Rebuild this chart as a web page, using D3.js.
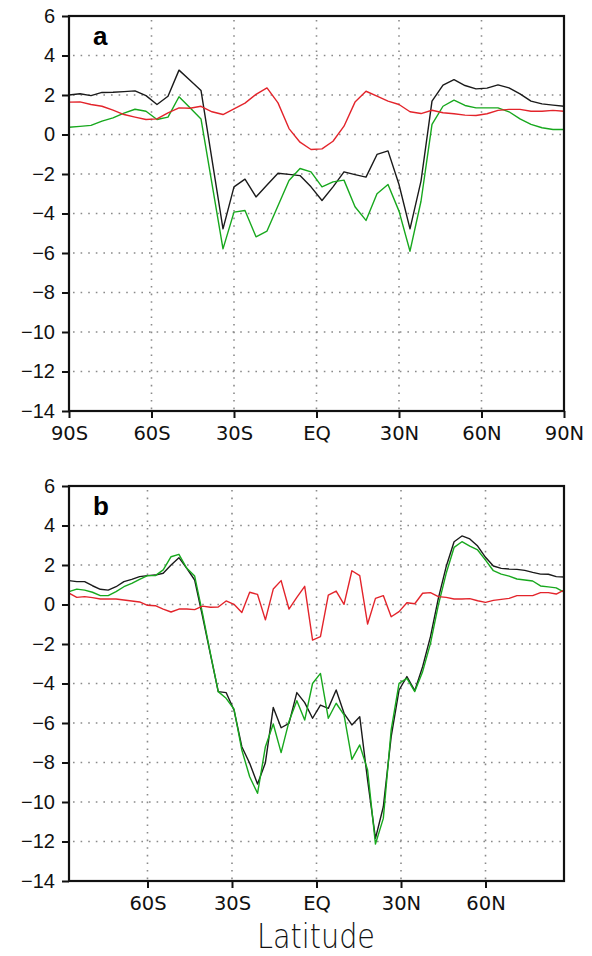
<!DOCTYPE html>
<html>
<head>
<meta charset="utf-8">
<script src="https://cdn.jsdelivr.net/npm/d3@7"></script>
<style>
  body { margin: 0; background: #fff; }
  svg { display: block; }
</style>
</head>
<body>
<div id="chart"></div>
<script>
var W = 592, H = 956;

// panel a: 4 degree grid, 90S..90N
var latA = [-90,-86,-82,-78,-74,-70,-66,-62,-58,-54,-50,-46,-42,-38,-34,-30,-26,-22,-18,-14,-10,-6,-2,
            2,6,10,14,18,22,26,30,34,38,42,46,50,54,58,62,66,70,74,78,82,86,90];
var blackA = [2.00,2.06,1.97,2.13,2.14,2.17,2.21,1.97,1.52,1.94,3.26,2.75,2.23,-1.27,-4.78,-2.65,-2.26,-3.16,-2.56,-1.96,-2.02,-2.08,-2.65,
              -3.34,-2.65,-1.89,-2.03,-2.16,-1.01,-0.83,-2.53,-4.78,-2.36,1.69,2.50,2.78,2.48,2.31,2.35,2.51,2.36,2.06,1.69,1.55,1.49,1.43];
var greenA = [0.37,0.41,0.46,0.68,0.84,1.08,1.28,1.18,0.76,0.88,1.91,1.35,0.79,-2.50,-5.79,-3.93,-3.85,-5.18,-4.89,-3.61,-2.33,-1.72,-1.89,
              -2.65,-2.40,-2.31,-3.66,-4.35,-3.00,-2.53,-3.88,-5.91,-3.38,0.51,1.43,1.74,1.47,1.35,1.35,1.35,1.15,0.79,0.51,0.34,0.25,0.25];
var redA = [1.64,1.65,1.52,1.43,1.23,1.01,0.88,0.76,0.79,1.10,1.35,1.33,1.43,1.15,1.01,1.30,1.59,2.03,2.36,1.60,0.30,-0.39,-0.76,
            -0.73,-0.34,0.42,1.64,2.19,1.94,1.69,1.52,1.15,1.06,1.23,1.10,1.05,0.98,0.96,1.05,1.22,1.27,1.27,1.18,1.18,1.22,1.18];

// panel b: T42 gaussian latitudes
var latB = [-87.86,-85.10,-82.31,-79.53,-76.74,-73.95,-71.16,-68.37,-65.58,-62.79,-60.00,-57.21,-54.42,-51.63,-48.84,-46.04,
            -43.25,-40.46,-37.67,-34.88,-32.09,-29.30,-26.51,-23.72,-20.93,-18.14,-15.35,-12.56,-9.77,-6.98,-4.19,-1.40,
            1.40,4.19,6.98,9.77,12.56,15.35,18.14,20.93,23.72,26.51,29.30,32.09,34.88,37.67,40.46,43.25,
            46.04,48.84,51.63,54.42,57.21,60.00,62.79,65.58,68.37,71.16,73.95,76.74,79.53,82.31,85.10,87.86];
var blackB = [1.21,1.16,1.16,0.95,0.77,0.73,0.90,1.16,1.27,1.41,1.46,1.49,1.58,2.00,2.37,1.83,
              1.24,-0.60,-2.51,-4.41,-4.46,-5.34,-7.20,-8.04,-9.09,-8.01,-5.21,-6.24,-6.02,-4.46,-4.97,-5.76,
              -5.09,-5.26,-4.33,-5.51,-6.10,-5.68,-8.89,-11.84,-10.24,-6.69,-4.33,-3.65,-4.36,-3.15,-1.63,0.31,
              1.92,3.18,3.47,3.32,2.96,2.39,1.95,1.83,1.80,1.78,1.73,1.63,1.54,1.53,1.41,1.39];
var greenB = [0.65,0.78,0.73,0.62,0.45,0.45,0.65,0.90,1.07,1.27,1.46,1.46,1.75,2.42,2.54,1.83,
              1.44,-0.45,-2.47,-4.41,-4.75,-5.29,-7.37,-8.72,-9.56,-7.20,-6.05,-7.50,-5.93,-4.87,-5.85,-4.00,
              -3.49,-5.76,-5.00,-5.59,-7.84,-7.11,-8.38,-12.13,-10.83,-6.35,-3.99,-3.74,-4.41,-3.40,-1.97,-0.03,
              1.58,2.89,3.18,2.96,2.76,2.25,1.71,1.54,1.44,1.29,1.24,1.19,0.94,0.89,0.84,0.63];
var redB = [0.57,0.36,0.40,0.35,0.28,0.28,0.28,0.23,0.18,0.13,-0.04,-0.06,-0.23,-0.38,-0.23,-0.23,
            -0.26,-0.08,-0.14,-0.13,0.18,0.01,-0.41,0.62,0.51,-0.78,0.78,1.21,-0.23,0.36,0.92,-1.80,
            -1.63,0.48,0.68,0.01,1.71,1.46,-0.99,0.31,0.45,-0.62,-0.36,0.09,0.04,0.57,0.60,0.40,
            0.36,0.28,0.28,0.30,0.19,0.11,0.21,0.26,0.31,0.45,0.45,0.45,0.60,0.60,0.53,0.73];

var yTicks = [6,4,2,0,-2,-4,-6,-8,-10,-12,-14];
var xTicksA = [-90,-60,-30,0,30,60,90];
var xTicksB = [-60,-30,0,30,60];
var latLabel = {"-90":"90S","-60":"60S","-30":"30S","0":"EQ","30":"30N","60":"60N","90":"90N"};

var svg = d3.select("#chart").append("svg")
  .attr("width", W)
  .attr("height", H);

function drawPanel(o) {
  var left = 69, width = 495, height = 395;
  var g = svg.append("g").attr("transform", "translate(" + left + "," + o.top + ")");

  var x = d3.scaleLinear().domain(o.xDomain).range([0, width]);
  var y = d3.scaleLinear().domain([-14, 6]).range([height, 0]);

  // dotted grid
  g.append("g").selectAll("line.gy")
    .data(yTicks.filter(function(d){ return d > -14 && d < 6; }))
    .enter().append("line")
    .attr("x1", 4).attr("x2", width)
    .attr("y1", function(d){ return y(d); })
    .attr("y2", function(d){ return y(d); })
    .attr("stroke", "#8a8a8a").attr("stroke-width", 1.6)
    .attr("stroke-dasharray", "1.6,6");
  g.append("g").selectAll("line.gx")
    .data(o.xTicks.filter(function(d){ return x(d) > 1 && x(d) < width - 1; }))
    .enter().append("line")
    .attr("y1", 4).attr("y2", height)
    .attr("x1", function(d){ return x(d); })
    .attr("x2", function(d){ return x(d); })
    .attr("stroke", "#8a8a8a").attr("stroke-width", 1.6)
    .attr("stroke-dasharray", "1.6,6");

  var line = d3.line()
    .x(function(d){ return x(d[0]); })
    .y(function(d){ return y(d[1]); });

  var series = [
    {vals: o.black, color: "#1a1a1a"},
    {vals: o.green, color: "#17a81d"},
    {vals: o.red,   color: "#e3242b"}
  ];
  series.forEach(function(s) {
    g.append("path")
      .datum(o.lat.map(function(l, i){ return [l, s.vals[i]]; }))
      .attr("d", line)
      .attr("fill", "none")
      .attr("stroke", s.color)
      .attr("stroke-width", 1.4)
      .attr("stroke-linejoin", "round");
  });

  // frame
  g.append("rect")
    .attr("width", width).attr("height", height)
    .attr("fill", "none").attr("stroke", "#111").attr("stroke-width", 2.2);

  var yAxis = g.append("g")
    .call(d3.axisLeft(y).tickValues(yTicks).tickSize(7).tickPadding(7)
      .tickFormat(function(d){ return d < 0 ? "\u2212" + Math.abs(d) : d; }));
  yAxis.select(".domain").remove();
  yAxis.selectAll("line").attr("stroke", "#111").attr("stroke-width", 2);
  yAxis.selectAll("text")
    .attr("font-family", "'Liberation Sans', Arial, sans-serif")
    .attr("font-size", 20).attr("fill", "#111");

  var xAxis = g.append("g")
    .attr("transform", "translate(0," + height + ")")
    .call(d3.axisBottom(x).tickValues(o.xTicks).tickSize(7).tickPadding(8)
      .tickFormat(function(d){ return latLabel[d]; }));
  xAxis.select(".domain").remove();
  xAxis.selectAll("line").attr("stroke", "#111").attr("stroke-width", 2);
  xAxis.selectAll("text")
    .attr("font-family", "'DejaVu Sans', sans-serif")
    .attr("font-size", 19.5).attr("fill", "#111");

  g.append("text")
    .attr("x", 24).attr("y", 29)
    .attr("font-family", "'Liberation Sans', Arial, sans-serif")
    .attr("font-weight", "bold").attr("font-size", 26)
    .text(o.tag);
}

drawPanel({top: 16, xDomain: [-90, 90], xTicks: xTicksA, lat: latA,
  black: blackA, green: greenA, red: redA, tag: "a"});
drawPanel({top: 486, xDomain: [-87.86, 87.86], xTicks: xTicksB, lat: latB,
  black: blackB, green: greenB, red: redB, tag: "b"});

svg.append("text")
  .attr("x", 316).attr("y", 948)
  .attr("text-anchor", "middle")
  .attr("font-family", "'DejaVu Sans', sans-serif")
  .attr("font-weight", 200)
  .attr("font-size", 34)
  .attr("textLength", 118)
  .attr("lengthAdjust", "spacingAndGlyphs")
  .attr("fill", "#111")
  .text("Latitude");
</script>
</body>
</html>
